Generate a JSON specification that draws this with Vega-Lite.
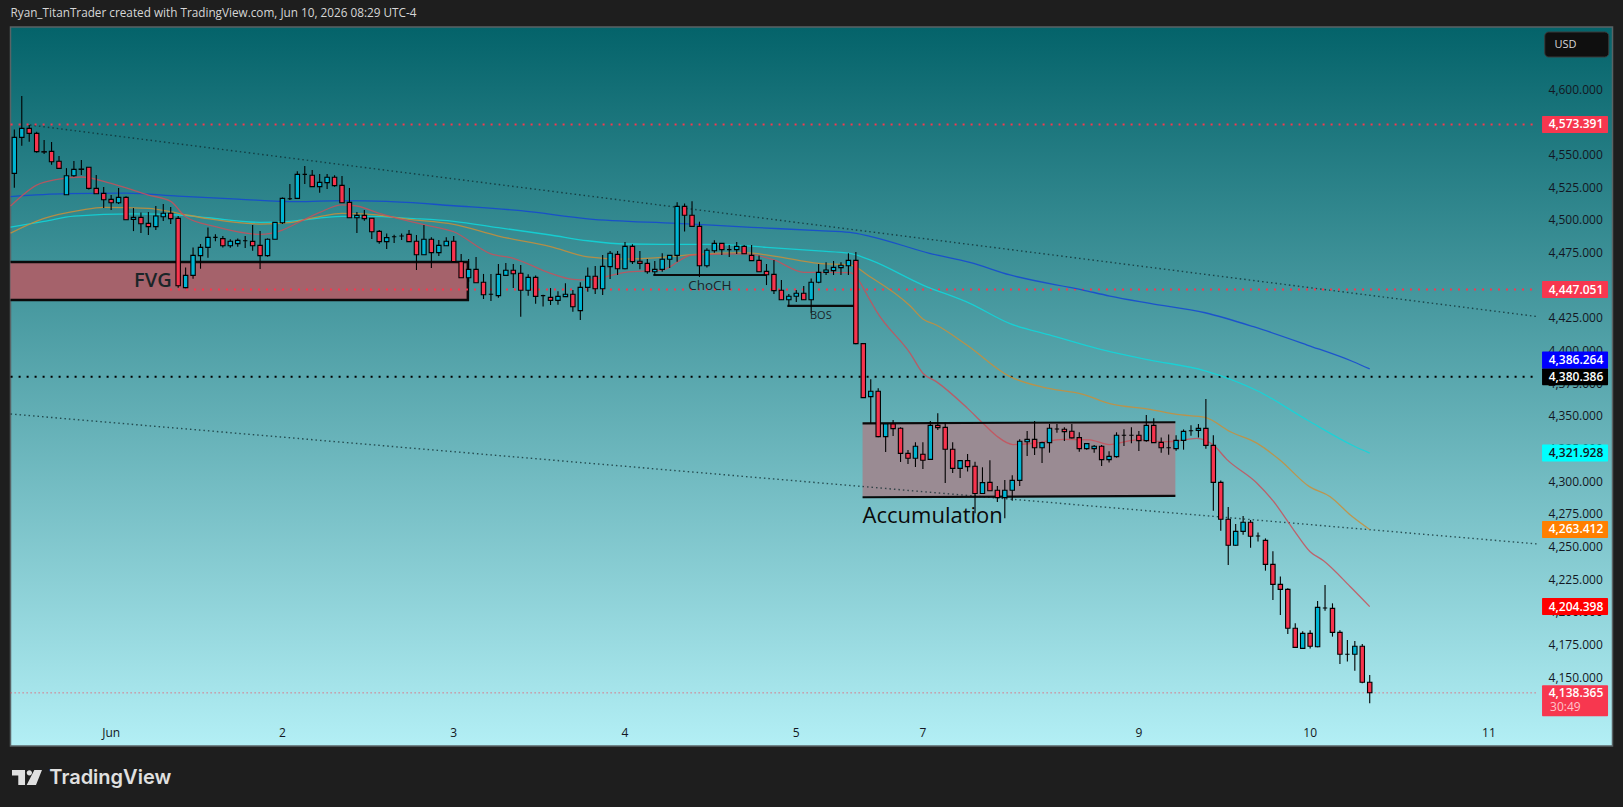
{
"$schema":"https://vega.github.io/schema/vega-lite/v6.json",
"width":1602,"height":719,"autosize":"none",
"padding":{"left":10.5,"top":27,"right":10.5,"bottom":61},
"background":"#1e1e1e",
"title":{"text":"Ryan_TitanTrader created with TradingView.com, Jun 10, 2026 08:29 UTC-4","anchor":"start","frame":"group","color":"#d6d6d6","font":"Open Sans","fontSize":11.75,"fontWeight":"normal","offset":7},
"view":{"fill":{"gradient":"linear","x1":0,"y1":0,"x2":0,"y2":1,"stops":[{"offset":0,"color":"#04636a"},{"offset":1,"color":"#b3eff5"}]},"stroke":"#596366","strokeWidth":1.5},
"config":{"font":"Open Sans"},
"datasets":{
"candles":[
{"i":0,"o":4536.0,"h":4569.6,"l":4525.0,"c":4563.5},{"i":1,"o":4563.5,"h":4595.2,"l":4557.1,"c":4570.4},{"i":2,"o":4570.4,"h":4573.0,"l":4560.2,"c":4566.6},{"i":3,"o":4566.6,"h":4567.9,"l":4551.8,"c":4552.6},{"i":4,"o":4552.6,"h":4561.5,"l":4550.8,"c":4552.3},{"i":5,"o":4552.8,"h":4560.0,"l":4542.6,"c":4544.9},{"i":6,"o":4545.2,"h":4549.2,"l":4539.8,"c":4539.8},{"i":7,"o":4519.6,"h":4540.0,"l":4519.6,"c":4534.2},{"i":8,"o":4534.2,"h":4545.4,"l":4533.4,"c":4539.0},{"i":9,"o":4539.3,"h":4546.2,"l":4534.7,"c":4539.0},
{"i":10,"o":4540.6,"h":4540.6,"l":4523.7,"c":4524.5},{"i":11,"o":4524.5,"h":4534.7,"l":4520.4,"c":4520.4},{"i":12,"o":4520.7,"h":4525.5,"l":4509.4,"c":4515.8},{"i":13,"o":4516.1,"h":4519.4,"l":4507.9,"c":4513.5},{"i":14,"o":4513.5,"h":4524.7,"l":4512.5,"c":4517.6},{"i":15,"o":4517.6,"h":4518.4,"l":4500.5,"c":4500.5},{"i":16,"o":4500.8,"h":4509.4,"l":4491.8,"c":4502.3},{"i":17,"o":4502.3,"h":4506.1,"l":4490.3,"c":4497.4},{"i":18,"o":4497.7,"h":4506.4,"l":4488.8,"c":4495.2},{"i":19,"o":4495.2,"h":4511.0,"l":4492.6,"c":4503.3},
{"i":20,"o":4502.8,"h":4512.5,"l":4499.5,"c":4505.4},{"i":21,"o":4505.4,"h":4510.2,"l":4497.2,"c":4501.3},{"i":22,"o":4501.5,"h":4503.3,"l":4448.5,"c":4450.0},{"i":23,"o":4448.5,"h":4464.0,"l":4448.0,"c":4457.9},{"i":24,"o":4457.9,"h":4479.3,"l":4455.4,"c":4473.2},{"i":25,"o":4473.0,"h":4481.9,"l":4463.0,"c":4479.3},{"i":26,"o":4479.3,"h":4494.6,"l":4471.4,"c":4487.0},{"i":27,"o":4487.0,"h":4489.3,"l":4484.0,"c":4487.0},{"i":28,"o":4486.0,"h":4488.0,"l":4479.3,"c":4480.6},{"i":29,"o":4480.6,"h":4485.5,"l":4479.0,"c":4484.0},
{"i":30,"o":4482.2,"h":4486.2,"l":4479.8,"c":4484.7},{"i":31,"o":4484.4,"h":4488.0,"l":4478.8,"c":4484.4},{"i":32,"o":4483.9,"h":4496.4,"l":4476.8,"c":4480.6},{"i":33,"o":4480.9,"h":4491.8,"l":4462.8,"c":4473.0},{"i":34,"o":4473.0,"h":4486.2,"l":4472.2,"c":4485.5},{"i":35,"o":4485.5,"h":4498.5,"l":4485.5,"c":4498.5},{"i":36,"o":4498.2,"h":4517.6,"l":4497.2,"c":4516.8},{"i":37,"o":4516.6,"h":4527.8,"l":4515.6,"c":4516.6},{"i":38,"o":4516.8,"h":4537.5,"l":4516.6,"c":4535.2},{"i":39,"o":4535.2,"h":4541.6,"l":4527.8,"c":4535.2},
{"i":40,"o":4534.5,"h":4538.5,"l":4525.8,"c":4525.8},{"i":41,"o":4525.8,"h":4535.5,"l":4521.2,"c":4529.1},{"i":42,"o":4528.9,"h":4535.5,"l":4524.0,"c":4533.0},{"i":43,"o":4533.0,"h":4534.5,"l":4525.8,"c":4526.6},{"i":44,"o":4526.8,"h":4534.0,"l":4513.5,"c":4513.5},{"i":45,"o":4513.8,"h":4524.8,"l":4502.0,"c":4502.0},{"i":46,"o":4502.0,"h":4506.4,"l":4490.3,"c":4503.8},{"i":47,"o":4503.8,"h":4508.0,"l":4499.8,"c":4501.3},{"i":48,"o":4501.6,"h":4501.6,"l":4485.7,"c":4491.3},{"i":49,"o":4491.6,"h":4492.6,"l":4482.2,"c":4483.7},
{"i":50,"o":4483.7,"h":4490.0,"l":4478.1,"c":4486.8},{"i":51,"o":4487.5,"h":4489.0,"l":4482.7,"c":4487.5},{"i":52,"o":4488.0,"h":4490.0,"l":4485.0,"c":4488.0},{"i":53,"o":4489.3,"h":4492.6,"l":4483.7,"c":4483.7},{"i":54,"o":4484.0,"h":4488.8,"l":4462.0,"c":4473.7},{"i":55,"o":4473.7,"h":4496.4,"l":4473.7,"c":4485.5},{"i":56,"o":4485.5,"h":4487.0,"l":4463.5,"c":4475.3},{"i":57,"o":4475.3,"h":4485.0,"l":4472.7,"c":4480.9},{"i":58,"o":4480.6,"h":4487.0,"l":4480.4,"c":4484.0},{"i":59,"o":4484.0,"h":4488.0,"l":4468.4,"c":4468.4},
{"i":60,"o":4468.4,"h":4474.3,"l":4456.1,"c":4456.1},{"i":61,"o":4456.1,"h":4470.4,"l":4453.0,"c":4462.5},{"i":62,"o":4462.5,"h":4472.0,"l":4452.3,"c":4452.3},{"i":63,"o":4452.6,"h":4459.0,"l":4439.8,"c":4443.1},{"i":64,"o":4443.4,"h":4459.0,"l":4438.3,"c":4443.4},{"i":65,"o":4442.4,"h":4466.6,"l":4440.8,"c":4458.7},{"i":66,"o":4457.9,"h":4467.4,"l":4457.9,"c":4461.8},{"i":67,"o":4461.8,"h":4466.6,"l":4448.2,"c":4459.2},{"i":68,"o":4459.5,"h":4465.8,"l":4426.3,"c":4446.5},{"i":69,"o":4446.5,"h":4458.7,"l":4442.4,"c":4456.4},
{"i":70,"o":4456.4,"h":4457.9,"l":4436.2,"c":4441.8},{"i":71,"o":4442.4,"h":4443.1,"l":4434.0,"c":4442.4},{"i":72,"o":4441.1,"h":4448.2,"l":4435.2,"c":4438.8},{"i":73,"o":4438.8,"h":4445.7,"l":4435.5,"c":4441.8},{"i":74,"o":4441.6,"h":4451.8,"l":4441.6,"c":4443.4},{"i":75,"o":4443.4,"h":4446.7,"l":4430.1,"c":4433.9},{"i":76,"o":4430.9,"h":4452.6,"l":4423.7,"c":4448.7},{"i":77,"o":4448.7,"h":4464.0,"l":4445.4,"c":4457.2},{"i":78,"o":4457.2,"h":4465.1,"l":4443.7,"c":4447.7},{"i":79,"o":4447.7,"h":4473.5,"l":4442.9,"c":4464.8},
{"i":80,"o":4464.6,"h":4476.6,"l":4455.1,"c":4474.8},{"i":81,"o":4474.0,"h":4476.6,"l":4458.2,"c":4463.0},{"i":82,"o":4463.0,"h":4483.4,"l":4462.5,"c":4480.1},{"i":83,"o":4480.1,"h":4481.7,"l":4466.6,"c":4468.4},{"i":84,"o":4468.7,"h":4476.6,"l":4462.5,"c":4467.1},{"i":85,"o":4467.1,"h":4470.4,"l":4459.2,"c":4460.7},{"i":86,"o":4460.7,"h":4468.9,"l":4458.2,"c":4462.5},{"i":87,"o":4462.5,"h":4474.8,"l":4460.7,"c":4470.2},{"i":88,"o":4470.2,"h":4473.2,"l":4463.6,"c":4473.2},{"i":89,"o":4473.2,"h":4513.8,"l":4468.4,"c":4510.7},
{"i":90,"o":4510.7,"h":4513.0,"l":4491.4,"c":4503.9},{"i":91,"o":4503.9,"h":4514.6,"l":4495.2,"c":4495.4},{"i":92,"o":4495.4,"h":4499.0,"l":4456.7,"c":4465.3},{"i":93,"o":4465.3,"h":4478.6,"l":4464.0,"c":4477.1},{"i":94,"o":4476.8,"h":4484.7,"l":4475.3,"c":4482.4},{"i":95,"o":4482.4,"h":4482.4,"l":4473.5,"c":4477.6},{"i":96,"o":4477.6,"h":4481.1,"l":4472.0,"c":4477.6},{"i":97,"o":4477.6,"h":4483.4,"l":4474.3,"c":4480.1},{"i":98,"o":4480.1,"h":4481.1,"l":4474.3,"c":4474.5},{"i":99,"o":4473.2,"h":4481.1,"l":4468.9,"c":4469.2},
{"i":100,"o":4469.4,"h":4473.2,"l":4460.7,"c":4460.7},{"i":101,"o":4461.0,"h":4466.6,"l":4450.5,"c":4458.4},{"i":102,"o":4458.7,"h":4469.7,"l":4443.7,"c":4446.2},{"i":103,"o":4446.5,"h":4454.4,"l":4439.0,"c":4439.3},{"i":104,"o":4439.3,"h":4443.7,"l":4434.5,"c":4441.9},{"i":105,"o":4441.9,"h":4446.7,"l":4437.5,"c":4444.2},{"i":106,"o":4444.2,"h":4449.8,"l":4439.0,"c":4439.3},{"i":107,"o":4439.3,"h":4455.6,"l":4428.9,"c":4452.6},{"i":108,"o":4452.6,"h":4466.6,"l":4451.8,"c":4460.2},{"i":109,"o":4460.2,"h":4467.9,"l":4458.2,"c":4462.0},
{"i":110,"o":4461.5,"h":4468.9,"l":4458.2,"c":4464.0},{"i":111,"o":4463.8,"h":4467.9,"l":4458.2,"c":4465.6},{"i":112,"o":4465.3,"h":4474.8,"l":4458.2,"c":4469.4},{"i":113,"o":4469.4,"h":4475.8,"l":4405.2,"c":4405.7},{"i":114,"o":4405.7,"h":4406.0,"l":4364.0,"c":4364.3},{"i":115,"o":4365.1,"h":4378.4,"l":4344.7,"c":4369.2},{"i":116,"o":4369.2,"h":4371.5,"l":4334.0,"c":4334.5},{"i":117,"o":4334.5,"h":4344.2,"l":4322.7,"c":4344.2},{"i":118,"o":4344.2,"h":4347.2,"l":4335.0,"c":4340.6},{"i":119,"o":4340.9,"h":4341.6,"l":4315.1,"c":4321.7},
{"i":120,"o":4321.7,"h":4324.3,"l":4313.6,"c":4317.9},{"i":121,"o":4317.9,"h":4330.1,"l":4311.3,"c":4327.1},{"i":122,"o":4321.0,"h":4330.1,"l":4309.7,"c":4316.4},{"i":123,"o":4317.1,"h":4346.5,"l":4317.1,"c":4343.1},{"i":124,"o":4343.1,"h":4352.3,"l":4339.6,"c":4341.4},{"i":125,"o":4341.6,"h":4345.4,"l":4299.0,"c":4324.8},{"i":126,"o":4324.8,"h":4330.1,"l":4306.7,"c":4310.2},{"i":127,"o":4310.2,"h":4316.1,"l":4302.8,"c":4316.1},{"i":128,"o":4316.1,"h":4321.2,"l":4307.7,"c":4311.5},{"i":129,"o":4311.8,"h":4315.3,"l":4275.8,"c":4290.9},
{"i":130,"o":4290.9,"h":4311.0,"l":4290.9,"c":4299.3},{"i":131,"o":4299.5,"h":4316.4,"l":4293.1,"c":4293.1},{"i":132,"o":4293.4,"h":4296.7,"l":4284.5,"c":4287.8},{"i":133,"o":4287.8,"h":4301.3,"l":4272.0,"c":4293.4},{"i":134,"o":4293.4,"h":4304.9,"l":4285.5,"c":4301.0},{"i":135,"o":4301.0,"h":4332.4,"l":4296.7,"c":4330.9},{"i":136,"o":4330.6,"h":4338.8,"l":4319.7,"c":4332.4},{"i":137,"o":4332.4,"h":4346.5,"l":4320.4,"c":4326.0},{"i":138,"o":4326.0,"h":4330.6,"l":4314.3,"c":4329.9},{"i":139,"o":4329.9,"h":4344.2,"l":4322.2,"c":4340.9},
{"i":140,"o":4340.3,"h":4344.2,"l":4337.5,"c":4340.3},{"i":141,"o":4340.1,"h":4341.6,"l":4331.2,"c":4338.3},{"i":142,"o":4338.6,"h":4344.2,"l":4333.0,"c":4333.5},{"i":143,"o":4333.7,"h":4337.8,"l":4323.0,"c":4325.3},{"i":144,"o":4325.3,"h":4329.4,"l":4324.5,"c":4329.1},{"i":145,"o":4325.3,"h":4328.1,"l":4322.2,"c":4327.1},{"i":146,"o":4327.1,"h":4328.1,"l":4312.0,"c":4316.9},{"i":147,"o":4316.9,"h":4323.2,"l":4314.6,"c":4319.4},{"i":148,"o":4319.2,"h":4337.8,"l":4318.4,"c":4335.5},{"i":149,"o":4335.5,"h":4340.1,"l":4327.3,"c":4335.5},
{"i":150,"o":4335.5,"h":4341.6,"l":4329.4,"c":4335.5},{"i":151,"o":4335.5,"h":4338.8,"l":4323.5,"c":4331.4},{"i":152,"o":4331.4,"h":4351.0,"l":4330.6,"c":4343.1},{"i":153,"o":4343.1,"h":4348.5,"l":4329.9,"c":4329.9},{"i":154,"o":4330.1,"h":4333.9,"l":4322.2,"c":4326.0},{"i":155,"o":4326.0,"h":4336.2,"l":4320.7,"c":4326.0},{"i":156,"o":4325.3,"h":4335.5,"l":4323.7,"c":4331.6},{"i":157,"o":4331.6,"h":4340.0,"l":4324.5,"c":4338.5},{"i":158,"o":4339.0,"h":4343.1,"l":4335.2,"c":4339.0},{"i":159,"o":4339.3,"h":4344.1,"l":4333.9,"c":4340.8},
{"i":160,"o":4340.8,"h":4363.3,"l":4325.2,"c":4327.8},{"i":161,"o":4327.8,"h":4335.5,"l":4277.8,"c":4299.5},{"i":162,"o":4299.5,"h":4301.0,"l":4262.5,"c":4271.2},{"i":163,"o":4271.2,"h":4280.6,"l":4236.2,"c":4251.3},{"i":164,"o":4251.3,"h":4267.6,"l":4251.0,"c":4262.0},{"i":165,"o":4262.0,"h":4273.7,"l":4259.4,"c":4268.9},{"i":166,"o":4268.9,"h":4270.7,"l":4249.5,"c":4258.2},{"i":167,"o":4258.4,"h":4261.2,"l":4254.3,"c":4258.4},{"i":168,"o":4255.1,"h":4256.6,"l":4231.9,"c":4236.7},{"i":169,"o":4236.7,"h":4246.7,"l":4209.4,"c":4221.4},
{"i":170,"o":4221.4,"h":4227.5,"l":4197.9,"c":4217.6},{"i":171,"o":4217.6,"h":4218.4,"l":4183.4,"c":4187.8},{"i":172,"o":4187.8,"h":4191.6,"l":4173.2,"c":4173.2},{"i":173,"o":4172.4,"h":4185.5,"l":4172.4,"c":4183.9},{"i":174,"o":4183.9,"h":4186.2,"l":4172.4,"c":4174.0},{"i":175,"o":4173.7,"h":4208.7,"l":4173.2,"c":4203.8},{"i":176,"o":4203.3,"h":4220.9,"l":4201.3,"c":4203.3},{"i":177,"o":4203.0,"h":4206.9,"l":4181.4,"c":4184.7},{"i":178,"o":4184.7,"h":4186.2,"l":4160.5,"c":4167.9},{"i":179,"o":4167.9,"h":4178.9,"l":4162.3,"c":4167.9},
{"i":180,"o":4167.9,"h":4178.1,"l":4155.2,"c":4174.0},{"i":181,"o":4174.0,"h":4175.8,"l":4145.7,"c":4146.5},{"i":182,"o":4146.5,"h":4152.1,"l":4130.4,"c":4138.4}
],
"ma":[
{"m":"blue","i":-0.5,"p":4518.2},{"m":"blue","i":7,"p":4520.4},{"m":"blue","i":15,"p":4520.9},{"m":"blue","i":22,"p":4518.6},{"m":"blue","i":30,"p":4516.3},{"m":"blue","i":38,"p":4514.3},{"m":"blue","i":44,"p":4515.1},{"m":"blue","i":50,"p":4514.6},{"m":"blue","i":59,"p":4511.2},{"m":"blue","i":68,"p":4507.4},{"m":"blue","i":77,"p":4501.2},{"m":"blue","i":89,"p":4497.7},{"m":"blue","i":99,"p":4494.7},{"m":"blue","i":108,"p":4492.1},{"m":"blue","i":112.2,"p":4490.8},{"m":"blue","i":114.9,"p":4487.8},{"m":"blue","i":122.9,"p":4474.8},{"m":"blue","i":128.3,"p":4467.9},{"m":"blue","i":133.7,"p":4458.2},{"m":"blue","i":143.5,"p":4446.7},{"m":"blue","i":147.1,"p":4442.1},{"m":"blue","i":152.5,"p":4436.5},{"m":"blue","i":159.9,"p":4429.3},{"m":"blue","i":166.4,"p":4418.6},{"m":"blue","i":173.6,"p":4404.6},{"m":"blue","i":179.8,"p":4391.8},{"m":"blue","i":182,"p":4386.3},
{"m":"cyan","i":-0.5,"p":4494.8},{"m":"cyan","i":4,"p":4499.2},{"m":"cyan","i":8,"p":4503.3},{"m":"cyan","i":16,"p":4504.9},{"m":"cyan","i":22,"p":4504.1},{"m":"cyan","i":26,"p":4502},{"m":"cyan","i":33,"p":4498.5},{"m":"cyan","i":37,"p":4499.2},{"m":"cyan","i":38,"p":4499.8},{"m":"cyan","i":44,"p":4503.1},{"m":"cyan","i":48,"p":4503.1},{"m":"cyan","i":53,"p":4501.6},{"m":"cyan","i":59,"p":4499.3},{"m":"cyan","i":65,"p":4494.4},{"m":"cyan","i":72,"p":4488.8},{"m":"cyan","i":77,"p":4484.4},{"m":"cyan","i":82,"p":4481.9},{"m":"cyan","i":87,"p":4481.7},{"m":"cyan","i":94,"p":4481.7},{"m":"cyan","i":101,"p":4479.4},{"m":"cyan","i":108,"p":4476.6},{"m":"cyan","i":112.2,"p":4474.8},{"m":"cyan","i":114.9,"p":4469.7},{"m":"cyan","i":122,"p":4450.5},{"m":"cyan","i":128.3,"p":4436.5},{"m":"cyan","i":133.7,"p":4421},{"m":"cyan","i":139,"p":4412.3},{"m":"cyan","i":147.1,"p":4399.5},{"m":"cyan","i":152.5,"p":4393.1},{"m":"cyan","i":159.9,"p":4384.9},{"m":"cyan","i":166.9,"p":4369.6},{"m":"cyan","i":173.6,"p":4347.2},{"m":"cyan","i":179.8,"p":4327.5},{"m":"cyan","i":182,"p":4321.9},
{"m":"orange","i":-0.5,"p":4490.3},{"m":"orange","i":4,"p":4501.5},{"m":"orange","i":9,"p":4507.9},{"m":"orange","i":12,"p":4510},{"m":"orange","i":18,"p":4509.2},{"m":"orange","i":22,"p":4505.4},{"m":"orange","i":26,"p":4501.3},{"m":"orange","i":33,"p":4497.2},{"m":"orange","i":37,"p":4498.2},{"m":"orange","i":38,"p":4499.3},{"m":"orange","i":41,"p":4502.9},{"m":"orange","i":44,"p":4505.4},{"m":"orange","i":47,"p":4504.9},{"m":"orange","i":53,"p":4500.8},{"m":"orange","i":59,"p":4497},{"m":"orange","i":65,"p":4488},{"m":"orange","i":72,"p":4479.9},{"m":"orange","i":77,"p":4472.1},{"m":"orange","i":82,"p":4470.4},{"m":"orange","i":87,"p":4471.7},{"m":"orange","i":91,"p":4473.8},{"m":"orange","i":98,"p":4475.3},{"m":"orange","i":102,"p":4472.7},{"m":"orange","i":108,"p":4467.1},{"m":"orange","i":112.2,"p":4465.9},{"m":"orange","i":114.9,"p":4456.9},{"m":"orange","i":120.3,"p":4434.5},{"m":"orange","i":122,"p":4424.5},{"m":"orange","i":123.8,"p":4419.9},{"m":"orange","i":127.9,"p":4404.6},{"m":"orange","i":133.7,"p":4380.4},{"m":"orange","i":138.2,"p":4372.2},{"m":"orange","i":143.5,"p":4366.9},{"m":"orange","i":147.1,"p":4359.7},{"m":"orange","i":152.5,"p":4355.4},{"m":"orange","i":156.1,"p":4351.5},{"m":"orange","i":159.9,"p":4349.2},{"m":"orange","i":163.3,"p":4338.2},{"m":"orange","i":166.9,"p":4329.3},{"m":"orange","i":169.9,"p":4316.8},{"m":"orange","i":173.9,"p":4296.2},{"m":"orange","i":176.7,"p":4288.5},{"m":"orange","i":179.4,"p":4274.5},{"m":"orange","i":182,"p":4263.4},
{"m":"red","i":-0.5,"p":4511},{"m":"red","i":3,"p":4527},{"m":"red","i":6,"p":4531.6},{"m":"red","i":9,"p":4533.2},{"m":"red","i":13,"p":4528.3},{"m":"red","i":18,"p":4519.4},{"m":"red","i":21,"p":4514.5},{"m":"red","i":23,"p":4502.8},{"m":"red","i":27,"p":4495.2},{"m":"red","i":33,"p":4489.3},{"m":"red","i":36,"p":4492.6},{"m":"red","i":38,"p":4498},{"m":"red","i":41,"p":4506.1},{"m":"red","i":44,"p":4511.8},{"m":"red","i":46,"p":4511},{"m":"red","i":49,"p":4505.4},{"m":"red","i":55,"p":4496.7},{"m":"red","i":59,"p":4491.3},{"m":"red","i":64,"p":4474.3},{"m":"red","i":67,"p":4471},{"m":"red","i":72,"p":4459.5},{"m":"red","i":75,"p":4454.9},{"m":"red","i":77,"p":4454.4},{"m":"red","i":82,"p":4460.2},{"m":"red","i":87,"p":4462},{"m":"red","i":91,"p":4473.5},{"m":"red","i":98,"p":4474.3},{"m":"red","i":102,"p":4469.7},{"m":"red","i":106,"p":4460.2},{"m":"red","i":112.2,"p":4460},{"m":"red","i":114.9,"p":4439},{"m":"red","i":115.8,"p":4430.1},{"m":"red","i":120.3,"p":4398.2},{"m":"red","i":122,"p":4383},{"m":"red","i":123.8,"p":4376.6},{"m":"red","i":127.9,"p":4356.7},{"m":"red","i":130.1,"p":4344.5},{"m":"red","i":131.9,"p":4335},{"m":"red","i":134.1,"p":4328.4},{"m":"red","i":136.8,"p":4329.4},{"m":"red","i":140.9,"p":4332.4},{"m":"red","i":144.4,"p":4332},{"m":"red","i":147,"p":4328.4},{"m":"red","i":150.8,"p":4332},{"m":"red","i":155,"p":4330.6},{"m":"red","i":158.8,"p":4333.2},{"m":"red","i":161,"p":4328},{"m":"red","i":162.8,"p":4317.1},{"m":"red","i":166.8,"p":4299.2},{"m":"red","i":169,"p":4285.5},{"m":"red","i":171.8,"p":4263},{"m":"red","i":174,"p":4246.4},{"m":"red","i":175.8,"p":4239.5},{"m":"red","i":179.4,"p":4219.6},{"m":"red","i":182,"p":4204.4}
],
"trend":[{"s":"a","i":2.1,"p":4573},{"s":"a","i":204.6,"p":4426.3},{"s":"b","i":-0.5,"p":4351.8},{"s":"b","i":204.6,"p":4252.3}],
"redlevels":[{"s":"a","i":-0.5,"p":4573.391},{"s":"a","i":204.2,"p":4573.391},{"s":"b","i":20.9,"p":4447.051},{"s":"b","i":204.2,"p":4447.051}],
"blacklevel":[{"i":-0.5,"p":4380.386},{"i":204.6,"p":4380.386}],
"lastlevel":[{"i":-0.5,"p":4138.365},{"i":204.6,"p":4138.365}],
"structure":[{"s":"choch","i":85.8,"p":4458.2},{"s":"choch","i":101,"p":4458.2},{"s":"bos","i":103.8,"p":4434.5},{"s":"bos","i":112.7,"p":4434.5},{"s":"acctop","i":113.9,"p":4344.7},{"s":"acctop","i":155.9,"p":4345.5},{"s":"accbot","i":113.9,"p":4288.1},{"s":"accbot","i":155.9,"p":4289.1}],
"tags":[{"k":"sup","p":4573.391},{"k":"sup","p":4447.051},{"k":"black","p":4380.386},{"k":"cyan","p":4321.928},{"k":"orange","p":4263.412},{"k":"red","p":4204.398}],
"yticks":[{"p":4600},{"p":4550},{"p":4525},{"p":4500},{"p":4475},{"p":4450},{"p":4425},{"p":4400},{"p":4375},{"p":4350},{"p":4325},{"p":4300},{"p":4275},{"p":4250},{"p":4225},{"p":4200},{"p":4175},{"p":4150}],
"xticks":[{"i":13,"t":"Jun"},{"i":36,"t":"2"},{"i":59,"t":"3"},{"i":82,"t":"4"},{"i":105,"t":"5"},{"i":122,"t":"7"},{"i":151,"t":"9"},{"i":174,"t":"10"},{"i":198,"t":"11"}]
},
"layer":[
{"data":{"values":[{"a":-5,"b":60.9,"t":4468.1,"u":4439}]},
 "mark":{"type":"rect","fill":"#a5626b","stroke":"#0a0a0a","strokeWidth":2.5,"clip":true},
 "encoding":{
  "x":{"field":"a","type":"quantitative","scale":{"domain":[-0.514,214.6],"nice":false,"zero":false,"padding":0},"axis":null},
  "x2":{"field":"b"},
  "y":{"field":"u","type":"quantitative","scale":{"domain":[4097.7,4648],"nice":false,"zero":false,"padding":0},"axis":null},
  "y2":{"field":"t"}}},
{"data":{"values":[{"a":113.9,"b":155.9,"t":4345.1,"u":4288.6}]},
 "mark":{"type":"rect","fill":"#9a8b93"},
 "encoding":{"x":{"field":"a","type":"quantitative","axis":null},"x2":{"field":"b"},"y":{"field":"u","type":"quantitative","axis":null},"y2":{"field":"t"}}},
{"data":{"name":"yticks"},"mark":{"type":"text","fontSize":12,"font":"Open Sans","align":"right","baseline":"middle","color":"#131722"},
 "encoding":{"x":{"datum":213.3,"type":"quantitative","axis":null},"y":{"field":"p","type":"quantitative","axis":null},"text":{"field":"p","format":",.3f"}}},
{"data":{"name":"xticks"},"mark":{"type":"text","fontSize":12,"font":"Open Sans","align":"center","baseline":"middle","color":"#131722"},
 "encoding":{"x":{"field":"i","type":"quantitative","axis":null},"y":{"datum":4107.9,"type":"quantitative","axis":null},"text":{"field":"t"}}},
{"data":{"name":"trend"},"mark":{"type":"line","stroke":"#0e2a2e","strokeWidth":1.4,"strokeDash":[1.5,3],"opacity":0.75},
 "encoding":{"x":{"field":"i","type":"quantitative","axis":null},"y":{"field":"p","type":"quantitative","axis":null},"detail":{"field":"s"}}},
{"data":{"name":"redlevels"},"mark":{"type":"line","stroke":"#f7374f","strokeWidth":2,"strokeDash":[2,6]},
 "encoding":{"x":{"field":"i","type":"quantitative","axis":null},"y":{"field":"p","type":"quantitative","axis":null},"detail":{"field":"s"}}},
{"data":{"name":"blacklevel"},"mark":{"type":"line","stroke":"#000000","strokeWidth":2,"strokeDash":[2,6]},
 "encoding":{"x":{"field":"i","type":"quantitative","axis":null},"y":{"field":"p","type":"quantitative","axis":null}}},
{"data":{"name":"lastlevel"},"mark":{"type":"line","stroke":"#f7374f","strokeWidth":1,"strokeDash":[1,3]},
 "encoding":{"x":{"field":"i","type":"quantitative","axis":null},"y":{"field":"p","type":"quantitative","axis":null}}},
{"data":{"name":"ma"},"mark":{"type":"line","strokeWidth":1.3,"opacity":0.85,"interpolate":"monotone"},
 "encoding":{"x":{"field":"i","type":"quantitative","axis":null},"y":{"field":"p","type":"quantitative","axis":null},"color":{"field":"m","type":"nominal","legend":null,"scale":{"domain":["blue","cyan","orange","red"],"range":["#1446d2","#0fd8dc","#c98e3a","#c8505a"]}}}},
{"data":{"name":"structure"},"mark":{"type":"line","stroke":"#0a0a0a","strokeWidth":2.2},
 "encoding":{"x":{"field":"i","type":"quantitative","axis":null},"y":{"field":"p","type":"quantitative","axis":null},"detail":{"field":"s"}}},
{"data":{"name":"candles"},"mark":{"type":"rule","stroke":"#000000","strokeWidth":1.1},
 "encoding":{"x":{"field":"i","type":"quantitative","axis":null},"y":{"field":"l","type":"quantitative","axis":null},"y2":{"field":"h"}}},
{"data":{"name":"candles"},"mark":{"type":"bar","size":4.4,"stroke":"#000000","strokeWidth":1.1},
 "encoding":{"x":{"field":"i","type":"quantitative","axis":null},"y":{"field":"o","type":"quantitative","axis":null},"y2":{"field":"c"},"fill":{"condition":{"test":"datum.c>=datum.o","value":"#00b4d2"},"value":"#f7344e"}}},
{"data":{"values":[{"t":"FVG","i":18.6,"p":4453.6}]},"mark":{"type":"text","fontSize":20,"font":"Open Sans","fontWeight":600,"color":"#1a2528","align":"center","baseline":"middle"},
 "encoding":{"x":{"field":"i","type":"quantitative","axis":null},"y":{"field":"p","type":"quantitative","axis":null},"text":{"field":"t"}}},
{"data":{"values":[{"t":"Accumulation","i":113.9,"p":4273.8}]},"mark":{"type":"text","fontSize":22,"font":"Open Sans","fontWeight":500,"color":"#0a0a0a","align":"left","baseline":"middle"},
 "encoding":{"x":{"field":"i","type":"quantitative","axis":null},"y":{"field":"p","type":"quantitative","axis":null},"text":{"field":"t"}}},
{"data":{"values":[{"t":"ChoCH","i":93.4,"p":4449.7}]},"mark":{"type":"text","fontSize":13.5,"font":"Open Sans","color":"#1a2528","align":"center","baseline":"middle"},
 "encoding":{"x":{"field":"i","type":"quantitative","axis":null},"y":{"field":"p","type":"quantitative","axis":null},"text":{"field":"t"}}},
{"data":{"values":[{"t":"BOS","i":108.3,"p":4426.7}]},"mark":{"type":"text","fontSize":11,"font":"Open Sans","color":"#1a2528","align":"center","baseline":"middle"},
 "encoding":{"x":{"field":"i","type":"quantitative","axis":null},"y":{"field":"p","type":"quantitative","axis":null},"text":{"field":"t"}}},
{"data":{"name":"tags"},"mark":{"type":"rect","width":66,"height":17,"cornerRadius":1},
 "encoding":{"x":{"datum":209.57,"type":"quantitative","axis":null},"y":{"field":"p","type":"quantitative","axis":null},"fill":{"field":"k","type":"nominal","legend":null,"scale":{"domain":["sup","black","cyan","orange","red"],"range":["#f7374f","#000000","#00ffff","#ff7f00","#ff0000"]}}}},
{"data":{"values":[{"p":4386.264}]},"mark":{"type":"rect","width":66,"height":17,"cornerRadius":1,"fill":"#0000ff","yOffset":-9},
 "encoding":{"x":{"datum":209.57,"type":"quantitative","axis":null},"y":{"field":"p","type":"quantitative","axis":null}}},
{"data":{"values":[{"p":4138.365}]},"mark":{"type":"rect","width":66,"height":31,"cornerRadius":1,"fill":"#f7374f","yOffset":8},
 "encoding":{"x":{"datum":209.57,"type":"quantitative","axis":null},"y":{"field":"p","type":"quantitative","axis":null}}},
{"data":{"name":"tags"},"mark":{"type":"text","fontSize":12,"font":"Open Sans","fontWeight":600,"align":"center","baseline":"middle","dx":1},
 "encoding":{"x":{"datum":209.57,"type":"quantitative","axis":null},"y":{"field":"p","type":"quantitative","axis":null},"text":{"field":"p","format":",.3f"},"color":{"condition":{"test":"datum.k=='cyan'","value":"#131722"},"value":"#ffffff"}}},
{"data":{"values":[{"p":4386.264}]},"mark":{"type":"text","fontSize":12,"font":"Open Sans","fontWeight":600,"align":"center","baseline":"middle","dx":1,"dy":-9,"color":"#ffffff"},
 "encoding":{"x":{"datum":209.57,"type":"quantitative","axis":null},"y":{"field":"p","type":"quantitative","axis":null},"text":{"field":"p","format":",.3f"}}},
{"data":{"values":[{"p":4138.365}]},"mark":{"type":"text","fontSize":12,"font":"Open Sans","fontWeight":600,"align":"center","baseline":"middle","dx":1,"color":"#ffffff"},
 "encoding":{"x":{"datum":209.57,"type":"quantitative","axis":null},"y":{"field":"p","type":"quantitative","axis":null},"text":{"field":"p","format":",.3f"}}},
{"data":{"values":[{"t":"30:49","p":4138.365}]},"mark":{"type":"text","fontSize":12,"font":"Open Sans","align":"left","baseline":"middle","dx":-25,"dy":14,"color":"#ffc4cb"},
 "encoding":{"x":{"datum":209.57,"type":"quantitative","axis":null},"y":{"field":"p","type":"quantitative","axis":null},"text":{"field":"t"}}},
{"data":{"values":[{"p":4634.6}]},"mark":{"type":"rect","width":64,"height":25,"cornerRadius":4,"fill":"#0f0f0f","stroke":"#3a3a3a","strokeWidth":1},
 "encoding":{"x":{"datum":209.8,"type":"quantitative","axis":null},"y":{"field":"p","type":"quantitative","axis":null}}},
{"data":{"values":[{"t":"USD","i":206.8,"p":4634.6}]},"mark":{"type":"text","fontSize":11,"font":"Open Sans","align":"left","baseline":"middle","color":"#d8d8d8"},
 "encoding":{"x":{"field":"i","type":"quantitative","axis":null},"y":{"field":"p","type":"quantitative","axis":null},"text":{"field":"t"}}},
{"data":{"values":[{"t":"TradingView","i":4.7,"p":4073.2}]},"mark":{"type":"text","fontSize":20,"font":"Inter","fontWeight":600,"align":"left","baseline":"middle","color":"#e0e0e0"},
 "encoding":{"x":{"field":"i","type":"quantitative","axis":null},"y":{"field":"p","type":"quantitative","axis":null},"text":{"field":"t"}}},
{"data":{"values":[{"i":1.7,"p":4073.5}]},"mark":{"type":"point","filled":true,"size":900,"opacity":1,"color":"#e0e0e0","shape":"M-1,-.5 H-.13 V.5 H-.58 V-.144 H-1 Z M-.02,-.32 a.178,.178 0 1,0 .356,0 a.178,.178 0 1,0 -.356,0 Z M.49,-.5 H1 L.6,.5 H-.02 Z"},
 "encoding":{"x":{"field":"i","type":"quantitative","axis":null},"y":{"field":"p","type":"quantitative","axis":null}}}
]
}
